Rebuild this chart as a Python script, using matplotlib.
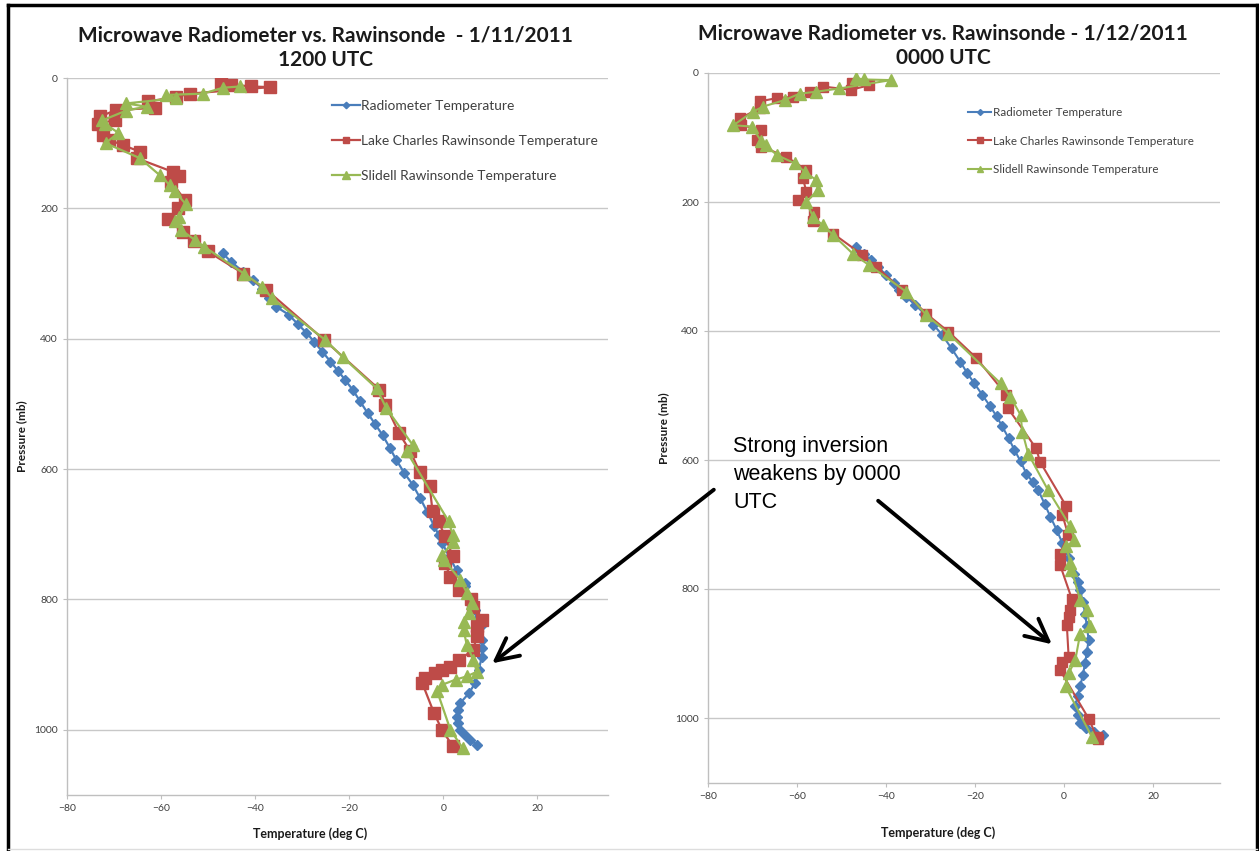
import matplotlib
matplotlib.use("Agg")
import matplotlib.pyplot as plt
from matplotlib.lines import Line2D

plt.rcParams['font.family'] = ['Lato', 'DejaVu Sans']

W, H = 1259, 851

# ---------------- data: 1/11/2011 1200 UTC ----------------
radL_p = [269, 282, 297, 310, 323, 337, 351, 363, 377, 391, 405, 420, 435, 450, 464, 478,
          496, 514, 531, 548, 567, 586, 606, 624, 645, 666, 688, 701, 714, 735, 755, 775,
          780, 798, 816, 829, 841, 862, 875, 888, 908, 928, 944, 959, 970, 980, 990, 1000,
          1008, 1015, 1023]
radL_t = [-46.9, -45.1, -42.6, -40.5, -38.5, -37.0, -35.5, -32.9, -31.0, -29.1, -27.4, -25.7,
          -24.0, -22.3, -20.8, -19.3, -17.7, -16.1, -14.5, -12.9, -11.4, -10.0, -8.3, -6.5,
          -4.9, -3.4, -1.9, -1.0, -0.2, 1.3, 2.8, 4.5, 4.7, 5.8, 6.8, 7.4, 7.9, 8.2, 8.3,
          8.2, 7.5, 6.8, 5.4, 3.6, 3.1, 2.9, 3.1, 3.6, 4.5, 5.7, 7.1]

lcL_p = [7, 10, 13, 14, 24, 29, 36, 46, 49, 59, 64, 71, 88, 95, 103, 113, 123, 144, 151, 159,
         187, 200, 216, 237, 250, 266, 300, 325, 402, 478, 501, 545, 573, 605, 626, 665, 680,
         703, 733, 744, 765, 785, 800, 811, 831, 841, 856, 877, 893, 903, 908, 913, 921, 928,
         974, 1000, 1025]
lcL_t = [-47.2, -45.1, -40.9, -36.8, -53.9, -56.8, -62.8, -61.4, -69.5, -73.0, -69.8, -73.4,
         -72.4, -71.0, -68.1, -64.5, -65.2, -57.5, -56.1, -57.8, -55.0, -56.5, -58.5, -55.4,
         -52.9, -50.1, -42.5, -37.6, -25.3, -13.6, -12.3, -9.4, -7.0, -5.0, -2.9, -2.3, -1.0,
         0.3, 2.0, 0.3, 1.5, 3.3, 5.8, 6.4, 8.2, 7.1, 7.1, 6.4, 3.3, 1.5, -0.3, -1.7, -3.8,
         -4.5, -2.0, -0.3, 2.0]

slL_p = [13, 15, 24, 26, 31, 39, 44, 50, 65, 70, 84, 100, 123, 149, 164, 174, 193, 213, 220,
         233, 249, 259, 300, 320, 338, 402, 428, 476, 507, 563, 573, 680, 701, 712, 732, 739,
         770, 790, 806, 821, 834, 847, 870, 893, 911, 918, 923, 931, 941, 1000, 1028]
slL_t = [-43.3, -46.9, -51.1, -58.9, -56.8, -67.4, -63.1, -67.4, -72.5, -72.0, -69.1, -71.8,
         -64.5, -60.3, -58.2, -57.1, -54.8, -56.1, -57.1, -55.8, -52.7, -50.8, -42.4, -38.5,
         -36.4, -25.1, -21.4, -14.2, -12.1, -6.5, -7.8, 1.1, 2.0, 2.0, -0.2, 0.1, 3.6, 5.0,
         6.1, 5.4, 4.3, 4.3, 5.0, 6.4, 7.1, 5.0, 2.6, -0.3, -1.3, 1.5, 4.1]

# ---------------- data: 1/12/2011 0000 UTC ----------------
radR_p = [269, 280, 290, 300, 313, 326, 336, 347, 360, 373, 390, 406, 427, 448, 465, 481,
          499, 517, 532, 548, 566, 584, 602, 621, 634, 647, 668, 688, 708, 729, 752, 776,
          789, 802, 820, 838, 858, 879, 897, 915, 933, 951, 966, 982, 995, 1008, 1015, 1021,
          1026]
radR_t = [-46.7, -45.0, -43.5, -41.9, -40.0, -38.2, -37.0, -35.5, -33.4, -31.4, -29.4, -27.4,
          -25.3, -23.3, -21.8, -20.2, -18.4, -16.6, -15.2, -13.9, -12.5, -11.2, -9.8, -8.5,
          -7.1, -5.8, -4.4, -3.1, -1.7, -0.4, 1.0, 2.3, 3.0, 3.6, 4.2, 4.7, 5.1, 5.5, 5.1,
          4.7, 4.2, 3.6, 3.0, 2.5, 3.0, 3.6, 5.0, 6.6, 8.8]

lcR_p = [16, 19, 26, 21, 29, 37, 39, 44, 55, 70, 81, 88, 104, 114, 130, 150, 163, 184, 197,
         215, 230, 249, 282, 300, 336, 373, 401, 442, 499, 520, 582, 603, 672, 685, 716, 745,
         763, 815, 833, 843, 856, 905, 913, 926, 1001, 1029, 1033]
lcR_t = [-47.6, -43.8, -47.9, -54.2, -57.2, -60.9, -64.6, -68.4, -68.4, -72.8, -72.5, -68.0,
         -69.1, -68.0, -62.4, -57.9, -58.7, -57.9, -59.8, -56.1, -56.4, -51.9, -45.3, -42.3,
         -36.4, -31.0, -26.0, -19.7, -13.0, -12.6, -6.3, -5.4, 0.5, -0.4, 0.9, -0.9, -0.9,
         1.7, 1.4, 1.0, 0.6, 1.0, -0.5, -0.9, 5.5, 7.3, 7.5]

slR_p = [8, 10, 11, 24, 29, 32, 42, 52, 60, 81, 83, 106, 112, 127, 140, 153, 166, 181, 200,
         223, 236, 251, 280, 298, 339, 375, 404, 481, 502, 530, 556, 590, 647, 703, 724, 734,
         760, 770, 817, 833, 858, 869, 910, 931, 951, 1029]
slR_t = [-46.7, -45.0, -38.9, -50.5, -55.7, -59.4, -62.8, -67.6, -69.9, -74.3, -70.2, -68.0,
         -66.9, -64.6, -60.5, -58.3, -55.7, -55.3, -57.9, -56.4, -54.2, -51.9, -47.5, -43.8,
         -35.5, -31.0, -26.0, -14.3, -12.1, -9.8, -9.4, -8.1, -3.6, 1.4, 2.3, 0.5, 1.4, 1.6,
         3.6, 5.1, 5.8, 3.6, 2.5, 1.0, 0.3, 6.2]

series_labels = ["Radiometer Temperature", "Lake Charles Rawinsonde Temperature",
                 "Slidell Rawinsonde Temperature"]
titles = ["Microwave Radiometer vs. Rawinsonde  - 1/11/2011\n1200 UTC",
          "Microwave Radiometer vs. Rawinsonde - 1/12/2011\n0000 UTC"]
x_ticks = [-80, -60, -40, -20, 0, 20]
y_ticks = [0, 200, 400, 600, 800, 1000]
annotation = "Strong inversion\nweakens by 0000\nUTC"

BLUE, RED, GREEN = "#4A7EBB", "#BE4B48", "#98B954"

fig = plt.figure(figsize=(W / 100, H / 100), dpi=100)
fig.patch.set_facecolor("white")


def px(x0, y0, x1, y1):
    """figure rect from pixel box (top-left origin)"""
    return [x0 / W, 1 - y1 / H, (x1 - x0) / W, (y1 - y0) / H]


def setup(ax, lbl_fs, legend_fs, leg_xy, spacing, title, tcx, ylab_x, xlab_y, title_y):
    ax.set_xlim(-80, 35)
    ax.set_ylim(1100, 0)
    ax.set_xticks(x_ticks)
    ax.set_yticks(y_ticks)
    ax.grid(axis="y", color="#C8C8C8", lw=1.0)
    ax.set_axisbelow(True)
    for s in ("top", "right"):
        ax.spines[s].set_visible(False)
    for s in ("left", "bottom"):
        ax.spines[s].set_color("#BFBFBF")
        ax.spines[s].set_linewidth(1.0)
    ax.tick_params(colors="#BFBFBF", labelcolor="#404040", labelsize=lbl_fs, length=3, width=0.8)
    leg = ax.legend(loc="upper left", bbox_to_anchor=leg_xy, frameon=False, fontsize=legend_fs,
                    labelspacing=spacing, handlelength=2.0, handletextpad=0.1,
                    borderpad=0, borderaxespad=0, markerscale=0.6)
    for t in leg.get_texts():
        t.set_color("#404040")
    fig.text(tcx / W, 1 - title_y / H, title, ha="center", va="top", fontsize=15,
             fontweight="bold", linespacing=1.3, color="#1a1a1a")
    ax.set_ylabel("Pressure (mb)", fontsize=lbl_fs + 1, fontweight="bold", color="#1a1a1a")
    ax.set_xlabel("Temperature (deg C)", fontsize=lbl_fs + 1.5, fontweight="bold", color="#1a1a1a")
    ax.yaxis.set_label_coords(ylab_x, 0.5)
    ax.xaxis.set_label_coords(0.45, xlab_y)


# left panel
axL = fig.add_axes(px(67, 78, 608, 795))
axL.plot(radL_t, radL_p, color=BLUE, lw=1.6, marker="D", ms=5.5, label=series_labels[0])
axL.plot(lcL_t, lcL_p, color=RED, lw=1.6, marker="s", ms=8.2, label=series_labels[1])
axL.plot(slL_t, slL_p, color=GREEN, lw=1.6, marker="^", ms=9, label=series_labels[2])
setup(axL, 7.5, 9.9, (0.49, 0.97), 1.7, titles[0], 325, -0.074, -0.045, 25)

# right panel
axR = fig.add_axes(px(708, 73, 1220, 782.5))
axR.plot(radR_t, radR_p, color=BLUE, lw=1.5, marker="D", ms=5, label=series_labels[0])
axR.plot(lcR_t, lcR_p, color=RED, lw=1.5, marker="s", ms=7.5, label=series_labels[1])
axR.plot(slR_t, slR_p, color=GREEN, lw=1.5, marker="^", ms=8.2, label=series_labels[2])
setup(axR, 7.5, 8.4, (0.508, 0.952), 1.5, titles[1], 943, -0.075, -0.062, 23)

# annotation text and arrows
fig.text(733 / W, 1 - 436 / H, annotation, ha="left", va="top", fontsize=15.5,
         family=["Liberation Sans", "DejaVu Sans"], linespacing=1.45, color="black")
fig.add_artist(matplotlib.patches.FancyArrowPatch(
    (716 / W, 1 - 488 / H), (490 / W, 1 - 665 / H), transform=fig.transFigure,
    arrowstyle="->,head_length=10,head_width=5", lw=2.8, color="black", mutation_scale=1.6))
fig.add_artist(matplotlib.patches.FancyArrowPatch(
    (876 / W, 1 - 499 / H), (1054 / W, 1 - 646 / H), transform=fig.transFigure,
    arrowstyle="->,head_length=10,head_width=5", lw=2.8, color="black", mutation_scale=1.6))

# outer frame
fig.add_artist(Line2D([8 / W, 8 / W], [1 - 5 / H, 0], transform=fig.transFigure, color="black", lw=2.5))
fig.add_artist(Line2D([8 / W, 1257 / W], [1 - 5 / H, 1 - 5 / H], transform=fig.transFigure, color="black", lw=2.5))
fig.add_artist(Line2D([1257 / W, 1257 / W], [1 - 5 / H, 0], transform=fig.transFigure, color="black", lw=2.5))
fig.add_artist(Line2D([8 / W, 1257 / W], [1 - 849 / H, 1 - 849 / H], transform=fig.transFigure, color="#DDDDDD", lw=1))

fig.savefig("out.png", dpi=100, facecolor="white")
